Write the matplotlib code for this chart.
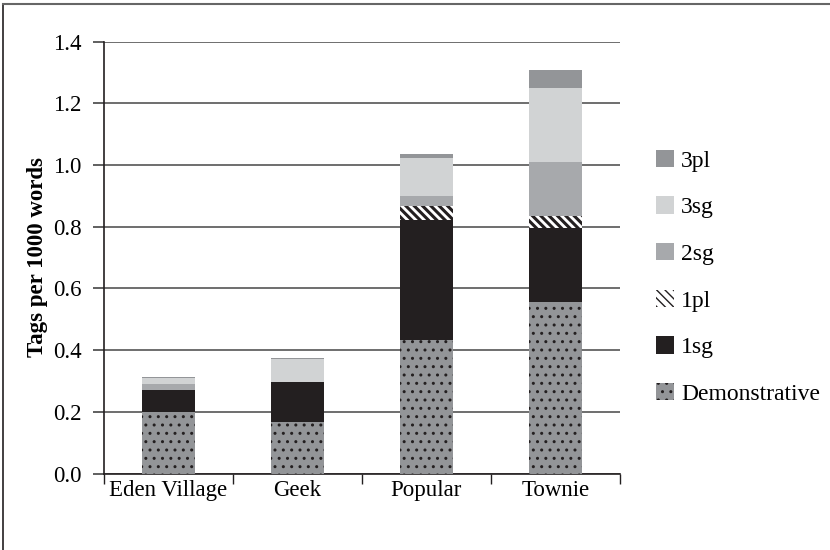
import matplotlib
matplotlib.use("Agg")
import matplotlib as mpl
import matplotlib.pyplot as plt
from matplotlib.lines import Line2D
import numpy as np

categories = ["Eden Village", "Geek", "Popular", "Townie"]
demonstrative = [0.200, 0.168, 0.432, 0.555]
sg1 = [0.070, 0.129, 0.389, 0.241]
pl1 = [0.000, 0.000, 0.046, 0.039]
sg2 = [0.020, 0.000, 0.032, 0.175]
sg3 = [0.019, 0.073, 0.123, 0.240]
pl3 = [0.003, 0.004, 0.013, 0.057]
yticks = [0.0, 0.2, 0.4, 0.6, 0.8, 1.0, 1.2, 1.4]
ytick_labels = ["0.0", "0.2", "0.4", "0.6", "0.8", "1.0", "1.2", "1.4"]

series = [
    ("Demonstrative", demonstrative, dict(facecolor="#939598", hatch="..", edgecolor="#231f20"), 1.0),
    ("1sg", sg1, dict(facecolor="#231f20", edgecolor="#231f20"), 1.0),
    ("1pl", pl1, dict(facecolor="white", hatch="\\\\\\\\", edgecolor="#231f20"), 2.2),
    ("2sg", sg2, dict(facecolor="#a7a9ac", edgecolor="#a7a9ac"), 1.0),
    ("3sg", sg3, dict(facecolor="#d1d3d4", edgecolor="#d1d3d4"), 1.0),
    ("3pl", pl3, dict(facecolor="#939598", edgecolor="#939598"), 1.0),
]

plt.rcParams['font.family'] = ['Liberation Serif', 'DejaVu Serif']

fig = plt.figure(figsize=(8.3, 5.5), dpi=100)
ax = fig.add_axes([103.5 / 830, 1 - 473.5 / 550, (620 - 103.5) / 830, (473.5 - 41.5) / 550])

x = np.arange(len(categories))
bottom = np.zeros(len(categories))
handles = []
for name, vals, style, hlw in series:
    with mpl.rc_context({'hatch.linewidth': hlw}):
        bars = ax.bar(x, vals, width=0.41, bottom=bottom, linewidth=0, label=name, zorder=3, **style)
    handles.append(bars)
    bottom = bottom + np.array(vals)

ax.set_xlim(-0.5, len(categories) - 0.5)
ax.set_ylim(0, 1.4)
ax.set_yticks(yticks)
ax.set_yticklabels(ytick_labels, fontsize=16.5)
ax.set_xticks(x)
ax.set_xticklabels(categories, fontsize=16.5)
ax.tick_params(axis='x', length=0, pad=5)
ax.set_xticks(np.arange(len(categories) + 1) - 0.5, minor=True)
ax.tick_params(axis='x', which='minor', length=7, width=1, color='#231f20', direction='out')
ax.tick_params(axis='y', length=8, width=1.2, color='#444444', pad=8)

ax.yaxis.grid(True, color='#555555', linewidth=1.2, zorder=0)
ax.set_axisbelow(True)
for s in ['top', 'right']:
    ax.spines[s].set_visible(False)
ax.spines['left'].set_color('#231f20')
ax.spines['bottom'].set_color('#231f20')
ax.spines['left'].set_linewidth(1.2)
ax.spines['bottom'].set_linewidth(1.2)

ax.set_ylabel("Tags per 1000 words", fontsize=16.5, fontweight='bold', labelpad=3)

leg = ax.legend(handles[::-1], [s[0] for s in series][::-1], loc='center left',
                bbox_to_anchor=(1.052, 0.454), frameon=False, fontsize=17,
                handlelength=0.75, handleheight=0.75, handletextpad=0.3,
                labelspacing=1.05, borderaxespad=0)

fig.add_artist(Line2D([3 / 830, 3 / 830], [0, 1 - 4 / 550], transform=fig.transFigure, color='#231f20', linewidth=1.2))
fig.add_artist(Line2D([3 / 830, 1], [1 - 4 / 550, 1 - 4 / 550], transform=fig.transFigure, color='#666666', linewidth=1.5))

fig.savefig("out.png", dpi=100)
